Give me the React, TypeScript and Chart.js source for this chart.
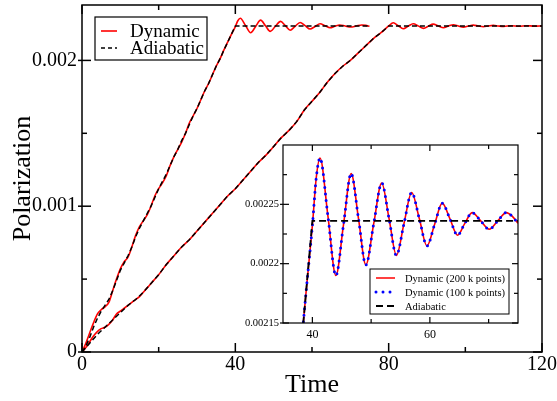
import { useEffect, useRef } from 'react';
import { Chart, registerables } from 'chart.js';
Chart.register(...registerables);

// ---------- data ----------
const fastTime = [
  0, 1, 2, 3, 4, 5, 6, 7, 8, 9, 10, 11, 12, 13, 14, 15, 16, 17, 18, 19, 20,
  21, 22, 23, 24, 25, 26, 27, 28, 29, 30, 31, 32, 33, 34, 35, 36, 37, 38, 39, 40,
  40.65, 41.3, 42.65, 44.0, 45.3, 46.6, 47.85, 49.1, 50.45, 51.8, 53.05, 54.3, 55.6, 56.9,
  58.2, 59.5, 60.8, 62.1, 63.4, 64.7, 65.95, 67.2, 68.65, 70.1, 71.55, 73.0, 74.0, 75.0,
];
const fastDynamic = [
  0, 0.00006, 0.00013, 0.0002, 0.00026, 0.00029, 0.00031, 0.00034, 0.00042, 0.0005, 0.00057,
  0.00062, 0.00065, 0.00072, 0.0008, 0.00086, 0.0009, 0.00094, 0.001, 0.00107, 0.00112,
  0.00116, 0.00121, 0.00128, 0.00134, 0.00139, 0.00144, 0.0015, 0.00157, 0.00162, 0.00167,
  0.00173, 0.00179, 0.00184, 0.0019, 0.00196, 0.00201, 0.00207, 0.002125, 0.00218, 0.002232,
  0.002272, 0.002289, 0.00224, 0.00219, 0.002233, 0.002276, 0.002238, 0.002199, 0.002234, 0.002268,
  0.002238, 0.002207, 0.002234, 0.00226, 0.002238, 0.002215, 0.002233, 0.002251, 0.002238, 0.002224,
  0.002234, 0.002243, 0.002236, 0.002229, 0.002236, 0.002243, 0.00224, 0.002234,
];
const fastAdiabaticTime = [
  0, 1, 2, 3, 4, 5, 6, 7, 8, 9, 10, 11, 12, 13, 14, 15, 16, 17, 18, 19, 20,
  21, 22, 23, 24, 25, 26, 27, 28, 29, 30, 31, 32, 33, 34, 35, 36, 37, 38, 39, 40, 75,
];
const fastAdiabatic = [
  0, 0.00004, 0.0001, 0.00017, 0.00023, 0.00028, 0.00032, 0.00036, 0.00042, 0.00049, 0.00056,
  0.00061, 0.00066, 0.00072, 0.00079, 0.00085, 0.0009, 0.00095, 0.001, 0.00106, 0.00112,
  0.00117, 0.00122, 0.00128, 0.00134, 0.00139, 0.00145, 0.0015, 0.00156, 0.00162, 0.00167,
  0.00173, 0.00179, 0.00184, 0.0019, 0.00196, 0.00201, 0.00207, 0.002125, 0.00218, 0.002236, 0.002236,
];
const slowTime = [
  0, 1, 2, 3, 4, 5, 6, 7, 8, 9, 10, 11, 12, 13, 14, 15, 16, 17, 18, 19, 20,
  22, 24, 26, 28, 30, 32, 34, 36, 38, 40, 42, 44, 46, 48, 50, 52, 54, 56, 58, 60,
  62, 64, 66, 68, 70, 72, 74, 76, 78, 80,
  81.2, 82.5, 83.8, 85.1, 86.4, 87.8, 89.1, 90.4, 91.6, 93, 94.3, 95.6, 96.9, 98.2,
  99.5, 100.8, 102.1, 103.4, 104.7, 106, 107.3, 108.6, 110, 112, 114, 116, 118, 120,
];
const slowDynamic = [
  0, 0.00003, 0.00007, 0.00011, 0.00014, 0.00016, 0.00017, 0.00019, 0.00022, 0.00026, 0.00028,
  0.0003, 0.00032, 0.00034, 0.00036, 0.00038, 0.00041, 0.00044, 0.00047, 0.0005, 0.00053,
  0.0006, 0.00066, 0.00072, 0.00077, 0.00083, 0.00089, 0.00095, 0.00101, 0.00107, 0.00112,
  0.00118, 0.00124, 0.0013, 0.00135, 0.00141, 0.00147, 0.00152, 0.00158, 0.00166, 0.00172,
  0.00178, 0.00185, 0.00191, 0.00196, 0.002, 0.00205, 0.0021, 0.00215, 0.00219, 0.002236,
  0.002258, 0.002238, 0.002217, 0.002235, 0.002251, 0.002235, 0.00222, 0.002235, 0.002249, 0.002236,
  0.002224, 0.002236, 0.002245, 0.002236, 0.002228, 0.002236, 0.002242, 0.002236, 0.002231, 0.002236,
  0.00224, 0.002236, 0.002233, 0.002238, 0.002234, 0.002238, 0.002235, 0.002237,
];
const slowAdiabaticTime = [
  0, 2, 4, 6, 8, 10, 12, 14, 16, 18, 20, 22, 24, 26, 28, 30, 32, 34, 36, 38, 40,
  42, 44, 46, 48, 50, 52, 54, 56, 58, 60, 62, 64, 66, 68, 70, 72, 74, 76, 78, 80, 120,
];
const slowAdiabatic = [
  0, 0.00006, 0.00012, 0.00017, 0.00022, 0.00027, 0.00032, 0.00036, 0.00041, 0.00047, 0.00053,
  0.0006, 0.00066, 0.00072, 0.00077, 0.00083, 0.00089, 0.00095, 0.00101, 0.00107, 0.00112,
  0.00118, 0.00124, 0.0013, 0.00135, 0.00141, 0.00147, 0.00152, 0.00158, 0.00166, 0.00172,
  0.00178, 0.00185, 0.00191, 0.00196, 0.002, 0.00205, 0.0021, 0.00215, 0.00219, 0.002236, 0.002236,
];

const mainXTicks = [0, 40, 80, 120];
const mainXTickLabels = ['0', '40', '80', '120'];
const mainXMinorTicks = [20, 60, 100];
const mainYTicks = [0, 0.001, 0.002];
const mainYTickLabels = ['0', '0.001', '0.002'];
const mainYMinorTicks = [0.0005, 0.0015];

const insetXTicks = [40, 60];
const insetXTickLabels = ['40', '60'];
const insetXMinorTicks = [50, 70];
const insetYTicks = [0.00215, 0.0022, 0.00225];
const insetYTickLabels = ['0.00215', '0.0022', '0.00225'];
const insetYMinorTicks = [0.002175, 0.002225, 0.002275];

const mainLegendLabels = ['Dynamic', 'Adiabatic'];
const insetLegendLabels = ['Dynamic (200 k points)', 'Dynamic (100 k points)', 'Adiabatic'];

// ---------- helpers ----------
const FAMILY = 'Liberation Serif';
const pts = (xs: number[], ys: number[]) => xs.map((x, i) => ({ x, y: ys[i] }));

type FrameCfg = {
  xMajor: number[]; xMinor: number[]; yMajor: number[]; yMinor: number[];
  majorLen: number; minorLen: number; yOut: number; lineWidth: number; fillWhite: boolean;
};

const framePlugin = (id: string, c: FrameCfg) => ({
  id,
  beforeDraw(chart: any) {
    if (!c.fillWhite) return;
    const { ctx, chartArea: a } = chart;
    ctx.save();
    ctx.fillStyle = '#fff';
    ctx.fillRect(a.left, a.top, a.right - a.left, a.bottom - a.top);
    ctx.restore();
  },
  afterDatasetsDraw(chart: any) {
    const { ctx, chartArea: a, scales } = chart;
    ctx.save();
    ctx.strokeStyle = '#000';
    ctx.lineWidth = c.lineWidth;
    ctx.setLineDash([]);
    ctx.strokeRect(a.left, a.top, a.right - a.left, a.bottom - a.top);
    const seg = (x1: number, y1: number, x2: number, y2: number) => {
      ctx.beginPath(); ctx.moveTo(x1, y1); ctx.lineTo(x2, y2); ctx.stroke();
    };
    const xt = (vals: number[], len: number) => vals.forEach((v) => {
      const p = scales.x.getPixelForValue(v);
      seg(p, a.bottom, p, a.bottom - len);
      seg(p, a.top, p, a.top + len);
    });
    const yt = (vals: number[], len: number, out: number) => vals.forEach((v) => {
      const p = scales.y.getPixelForValue(v);
      seg(a.left - out, p, a.left + len, p);
      seg(a.right, p, a.right - len, p);
    });
    xt(c.xMajor, c.majorLen);
    xt(c.xMinor, c.minorLen);
    yt(c.yMajor, c.majorLen, c.yOut);
    yt(c.yMinor, c.minorLen, 0);
    ctx.restore();
  },
});

type LegendRow = { label: string; color: string; dash: number[]; width: number; cap: CanvasLineCap };
type LegendCfg = {
  box: [number, number, number, number]; rows: number[]; x1: number; x2: number; tx: number;
  font: string; items: LegendRow[]; boxWidth: number;
};
const legendPlugin = (id: string, c: LegendCfg) => ({
  id,
  afterDraw(chart: any) {
    const { ctx } = chart;
    ctx.save();
    const [l, t, r, b] = c.box;
    ctx.fillStyle = '#fff';
    ctx.fillRect(l, t, r - l, b - t);
    ctx.strokeStyle = '#000';
    ctx.lineWidth = c.boxWidth;
    ctx.setLineDash([]);
    ctx.strokeRect(l, t, r - l, b - t);
    c.items.forEach((it, i) => {
      const y = c.rows[i];
      ctx.strokeStyle = it.color;
      ctx.lineWidth = it.width;
      ctx.lineCap = it.cap;
      ctx.setLineDash(it.dash);
      ctx.beginPath(); ctx.moveTo(c.x1, y); ctx.lineTo(c.x2, y); ctx.stroke();
      ctx.setLineDash([]);
      ctx.fillStyle = '#000';
      ctx.font = c.font;
      ctx.textBaseline = 'middle';
      ctx.textAlign = 'left';
      ctx.fillText(it.label, c.tx, y + 1);
    });
    ctx.restore();
  },
});

const fixedTicks = (values: number[]) => (scale: any) => {
  scale.ticks = values.map((value) => ({ value }));
};
const labelFor = (values: number[], labels: string[]) => (v: any) => {
  const i = values.findIndex((x) => Math.abs(x - Number(v)) < 1e-9);
  return i >= 0 ? labels[i] : '';
};

function mainConfig(): any {
  return {
    type: 'line',
    data: {
      datasets: [
        { data: pts(fastTime, fastDynamic), borderColor: '#ff0000', borderWidth: 1.6, order: 2, cubicInterpolationMode: 'monotone' },
        { data: pts(slowTime, slowDynamic), borderColor: '#ff0000', borderWidth: 1.6, order: 2, cubicInterpolationMode: 'monotone' },
        { data: pts(fastAdiabaticTime, fastAdiabatic), borderColor: '#000', borderWidth: 1.5, borderDash: [5, 3], order: 1 },
        { data: pts(slowAdiabaticTime, slowAdiabatic), borderColor: '#000', borderWidth: 1.5, borderDash: [5, 3], order: 1 },
      ],
    },
    options: {
      animation: false,
      responsive: false,
      events: [],
      layout: { padding: { left: 0, right: 15, top: 5, bottom: 0 } },
      elements: { point: { radius: 0 }, line: { fill: false } },
      plugins: { legend: { display: false }, tooltip: { enabled: false } },
      scales: {
        x: {
          type: 'linear', min: 0, max: 120,
          grid: { display: false, drawTicks: false }, border: { display: false },
          afterBuildTicks: fixedTicks(mainXTicks),
          ticks: { callback: labelFor(mainXTicks, mainXTickLabels), font: { family: FAMILY, size: 20 }, color: '#000', padding: 1, maxRotation: 0, autoSkip: false },
          title: { display: true, text: 'Time', color: '#000', font: { family: FAMILY, size: 26, lineHeight: 1.2 }, padding: { top: 0, bottom: 0 } },
          afterFit: (s: any) => { s.height = 49; s.paddingLeft = 0; s.paddingRight = 0; },
        },
        y: {
          type: 'linear', min: 0, max: 0.00238,
          grid: { display: false, drawTicks: false }, border: { display: false },
          afterBuildTicks: fixedTicks(mainYTicks),
          ticks: { callback: labelFor(mainYTicks, mainYTickLabels), font: { family: FAMILY, size: 20 }, color: '#000', padding: 5, autoSkip: false },
          title: { display: true, text: 'Polarization', color: '#000', font: { family: FAMILY, size: 26, lineHeight: 1.2 }, padding: { top: 8, bottom: 0 } },
          afterFit: (s: any) => { s.width = 82; s.paddingTop = 0; s.paddingBottom = 0; },
        },
      },
    },
    plugins: [
      framePlugin('mainFrame', {
        xMajor: mainXTicks, xMinor: mainXMinorTicks, yMajor: mainYTicks, yMinor: mainYMinorTicks,
        majorLen: 9, minorLen: 5, yOut: 4, lineWidth: 1.5, fillWhite: false,
      }),
      legendPlugin('mainLegend', {
        box: [95, 17, 207, 60], rows: [31, 48], x1: 101, x2: 117, tx: 130,
        font: `19px "${FAMILY}"`, boxWidth: 1.2,
        items: [
          { label: mainLegendLabels[0], color: '#ff0000', dash: [], width: 1.6, cap: 'butt' },
          { label: mainLegendLabels[1], color: '#000', dash: [4, 3], width: 1.5, cap: 'butt' },
        ],
      }),
    ],
  };
}

function insetConfig(): any {
  return {
    type: 'line',
    data: {
      datasets: [
        { data: pts(fastTime, fastDynamic), borderColor: '#ff0000', borderWidth: 1.6, order: 3, cubicInterpolationMode: 'monotone' },
        { data: pts(fastTime, fastDynamic), borderColor: '#0000ff', borderWidth: 3, borderDash: [0, 6.5], borderCapStyle: 'round', order: 2, cubicInterpolationMode: 'monotone' },
        { data: pts(fastAdiabaticTime, fastAdiabatic), borderColor: '#000', borderWidth: 1.8, borderDash: [7, 4], order: 1 },
      ],
    },
    options: {
      animation: false,
      responsive: false,
      events: [],
      layout: { padding: { left: 0, right: 8, top: 5, bottom: 0 } },
      elements: { point: { radius: 0 }, line: { fill: false } },
      plugins: { legend: { display: false }, tooltip: { enabled: false } },
      scales: {
        x: {
          type: 'linear', min: 35, max: 75,
          grid: { display: false, drawTicks: false }, border: { display: false },
          afterBuildTicks: fixedTicks(insetXTicks),
          ticks: { callback: labelFor(insetXTicks, insetXTickLabels), font: { family: FAMILY, size: 12 }, color: '#000', padding: 5, maxRotation: 0, autoSkip: false },
          afterFit: (s: any) => { s.height = 22; s.paddingLeft = 0; s.paddingRight = 0; },
        },
        y: {
          type: 'linear', min: 0.00215, max: 0.0023,
          grid: { display: false, drawTicks: false }, border: { display: false },
          afterBuildTicks: fixedTicks(insetYTicks),
          ticks: { callback: labelFor(insetYTicks, insetYTickLabels), font: { family: FAMILY, size: 10.5 }, color: '#000', padding: 4, autoSkip: false },
          afterFit: (s: any) => { s.width = 47; s.paddingTop = 0; s.paddingBottom = 0; },
        },
      },
    },
    plugins: [
      framePlugin('insetFrame', {
        xMajor: insetXTicks, xMinor: insetXMinorTicks, yMajor: insetYTicks, yMinor: insetYMinorTicks,
        majorLen: 6, minorLen: 4, yOut: 3, lineWidth: 1.2, fillWhite: true,
      }),
      legendPlugin('insetLegend', {
        box: [134, 129, 273, 174], rows: [138, 152, 166], x1: 140, x2: 159, tx: 169,
        font: `10.5px "${FAMILY}"`, boxWidth: 1,
        items: [
          { label: insetLegendLabels[0], color: '#ff0000', dash: [], width: 1.5, cap: 'butt' },
          { label: insetLegendLabels[1], color: '#0000ff', dash: [0, 7], width: 3, cap: 'round' },
          { label: insetLegendLabels[2], color: '#000', dash: [7, 4], width: 1.8, cap: 'butt' },
        ],
      }),
    ],
  };
}

export default function App() {
  const mainRef = useRef<HTMLCanvasElement>(null);
  const insetRef = useRef<HTMLCanvasElement>(null);
  useEffect(() => {
    const main = new Chart(mainRef.current as HTMLCanvasElement, mainConfig());
    const inset = new Chart(insetRef.current as HTMLCanvasElement, insetConfig());
    return () => { main.destroy(); inset.destroy(); };
  }, []);
  return (
    <div style={{ position: 'fixed', left: 0, top: 0, width: 557, height: 401, background: '#fff' }}>
      <canvas ref={mainRef} width={557} height={401} style={{ position: 'absolute', left: 0, top: 0, width: 557, height: 401 }} />
      <canvas ref={insetRef} width={290} height={205} style={{ position: 'absolute', left: 236, top: 140, width: 290, height: 205 }} />
    </div>
  );
}
